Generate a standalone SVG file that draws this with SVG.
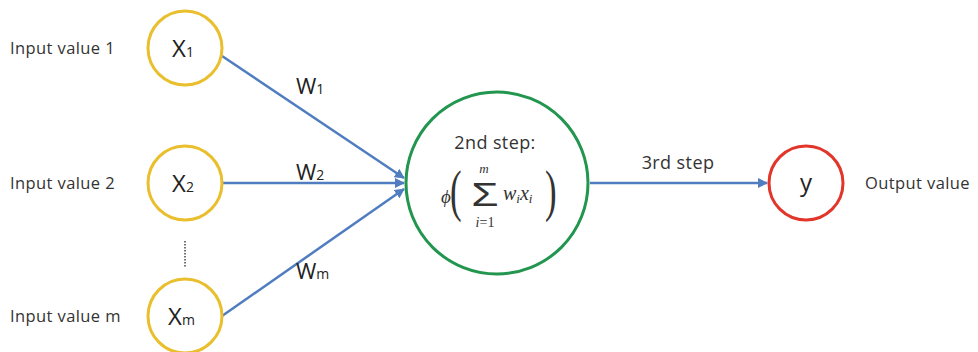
<svg xmlns="http://www.w3.org/2000/svg" width="978" height="352" viewBox="0 0 978 352">
<style>
.lbl{font-family:"Open Sans","Liberation Sans",sans-serif;font-size:16.5px;letter-spacing:0.4px;fill:#333}
.step{font-family:"Open Sans","Liberation Sans",sans-serif;font-size:18px;letter-spacing:0.4px;fill:#333}
.big{font-family:"Open Sans","Liberation Sans",sans-serif;font-size:24px;fill:#222}
.sub{font-family:"Open Sans","Liberation Sans",sans-serif;font-size:14px;fill:#222}
.math{font-family:"Liberation Serif","DejaVu Serif",serif;font-style:italic;fill:#333}
.paren{font-family:"Liberation Serif",serif;font-size:58px;fill:#333}
.in{fill:#fff;stroke:#E9BF2E;stroke-width:3}
.edge{stroke:#4F7DBF;stroke-width:2.5;fill:none}
</style>
<defs>
<marker id="ah" viewBox="0 0 10 10" refX="9" refY="5" markerWidth="4" markerHeight="4" orient="auto" markerUnits="strokeWidth">
<path d="M0,0 L10,5 L0,10 z" fill="#4F7DBF"/>
</marker>
</defs>
<rect width="978" height="352" fill="#fff"/>
<g id="connectors">
<line class="edge" x1="222" y1="56" x2="404" y2="178" marker-end="url(#ah)"/>
<line class="edge" x1="222" y1="183" x2="404" y2="183" marker-end="url(#ah)"/>
<line class="edge" x1="222" y1="316" x2="404" y2="189" marker-end="url(#ah)"/>
<line class="edge" x1="590" y1="183" x2="767" y2="183" marker-end="url(#ah)"/>
<text class="big" x="296" y="94" style="font-size:22px">W<tspan class="sub">1</tspan></text>
<text class="big" x="296" y="180" style="font-size:22px">W<tspan class="sub">2</tspan></text>
<text class="big" x="296" y="279" style="font-size:22px">W<tspan class="sub">m</tspan></text>
<text class="step" x="678" y="169" text-anchor="middle">3rd step</text>
<line x1="185" y1="241" x2="185" y2="268" stroke="#444" stroke-width="1.5" stroke-dasharray="1.5,1.5"/>
</g>
<g id="x1">
<text class="lbl" x="10" y="54">Input value 1</text>
<circle class="in" cx="185" cy="48" r="37"/>
<text class="big" x="172" y="57">X<tspan class="sub">1</tspan></text>
</g>
<g id="x2">
<text class="lbl" x="10" y="189">Input value 2</text>
<circle class="in" cx="185" cy="183" r="37"/>
<text class="big" x="172" y="192">X<tspan class="sub">2</tspan></text>
</g>
<g id="xm">
<text class="lbl" x="10" y="322">Input value m</text>
<circle class="in" cx="185" cy="316" r="37"/>
<text class="big" x="168" y="325">X<tspan class="sub">m</tspan></text>
</g>
<g id="sum">
<circle cx="497" cy="183" r="91" fill="#fff" stroke="#22954F" stroke-width="3"/>
<text class="step" x="495" y="149" text-anchor="middle">2nd step:</text>
<text class="math" x="441" y="203" font-size="19">ϕ</text>
<text class="paren" x="450" y="210" transform="translate(450 0) scale(0.6 1) translate(-450 0)">(</text>
<text class="paren" x="545" y="210" transform="translate(545 0) scale(0.6 1) translate(-545 0)">)</text>
<text x="485" y="206" font-family="'Liberation Sans',sans-serif" font-size="34" fill="#333" text-anchor="middle" transform="translate(485 0) scale(1.3 1) translate(-485 0)">Σ</text>
<text class="math" x="484" y="173" font-size="13" text-anchor="middle">m</text>
<text class="math" x="485" y="227" font-size="14" text-anchor="middle">i<tspan style="font-style:normal">=1</tspan></text>
<text class="math" x="503" y="200" font-size="20">w<tspan font-size="13" dy="3">i</tspan><tspan dy="-3">x</tspan><tspan font-size="13" dy="3">i</tspan></text>
</g>
<g id="y">
<circle cx="806" cy="183" r="37" fill="#fff" stroke="#E2362B" stroke-width="3"/>
<text class="big" x="806" y="191" text-anchor="middle">y</text>
<text class="lbl" x="865" y="189">Output value</text>
</g>
</svg>
